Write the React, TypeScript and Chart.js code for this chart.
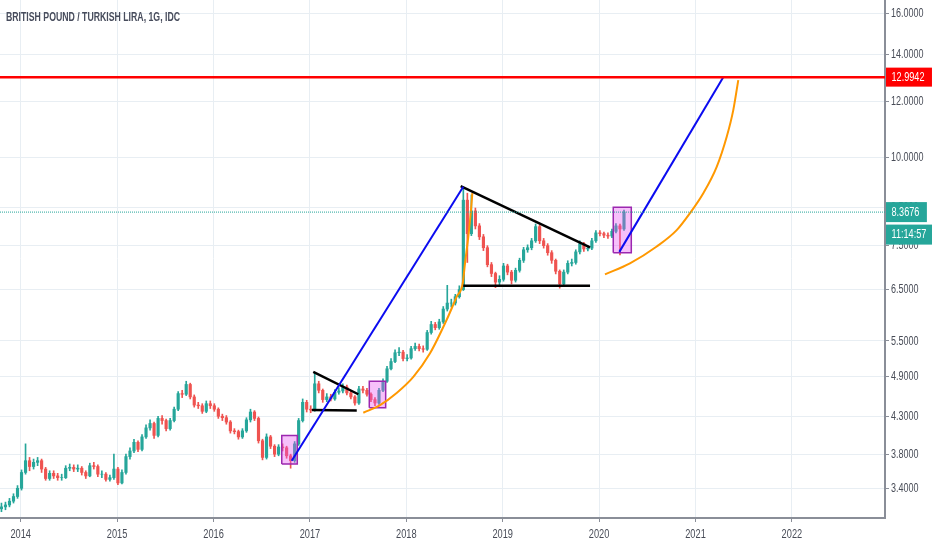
import { useEffect, useRef } from "react";
import { Chart, registerables } from "chart.js";

Chart.register(...registerables);

const TITLE = "BRITISH POUND / TURKISH LIRA, 1G, IDC";
const FONT = '"Liberation Sans", Arial, sans-serif';
const TEXT_COLOR = "#484c57";
const UP = "#26a69a";
const DOWN = "#ef5350";

// half-month candles, first one mid-October 2013 (decimal years)
const FIRST_DATE = 2013.8;
const CANDLE_STEP = 1 / 24;
const FIRST_OPEN = 3.18;

const CLOSES = [
  3.2, 3.22, 3.26, 3.31, 3.4, 3.58, 3.72, 3.65, 3.7, 3.72,
  3.62, 3.51, 3.57, 3.54, 3.52, 3.52, 3.63, 3.64, 3.62, 3.63,
  3.58, 3.54, 3.66, 3.65, 3.56, 3.56, 3.5, 3.52, 3.62, 3.46,
  3.58, 3.77, 3.84, 3.95, 3.86, 4.02, 4.14, 4.2, 4.04, 4.27,
  4.24, 4.13, 4.24, 4.4, 4.63, 4.62, 4.77, 4.58, 4.46, 4.45,
  4.37, 4.48, 4.45, 4.4, 4.3, 4.28, 4.22, 4.1, 4.09, 4.02,
  4.1, 4.25, 4.36, 4.27, 3.97, 3.76, 4.02, 3.9, 3.8, 3.89,
  3.88, 3.78, 3.72, 3.93, 4.24, 4.5, 4.4, 4.39, 4.78, 4.68,
  4.54, 4.58, 4.55, 4.65, 4.67, 4.73, 4.64, 4.58, 4.49, 4.7,
  4.68, 4.62, 4.54, 4.49, 4.68, 4.82, 5.02, 5.14, 5.29, 5.3,
  5.19, 5.2, 5.36, 5.4, 5.36, 5.35, 5.65, 5.8, 5.74, 5.85,
  6.1, 6.22, 6.22, 6.35, 6.5, 8.7, 7.8, 8.4, 8.0, 7.72,
  7.45, 7.05, 6.85, 6.66, 6.72, 7.02, 6.88, 6.7, 6.92, 7.15,
  7.4, 7.45, 7.62, 7.98, 7.62, 7.5, 7.33, 7.15, 6.9, 6.62,
  6.88, 7.08, 7.1, 7.35, 7.55, 7.42, 7.44, 7.62, 7.82, 7.8,
  7.76, 7.74, 7.86, 8.0, 7.92, 8.37,
];

const HIGHS = [
  3.24, 3.25, 3.29, 3.34, 3.43, 3.61, 3.93, 3.76, 3.74, 3.76,
  3.74, 3.64, 3.6, 3.6, 3.57, 3.56, 3.66, 3.68, 3.67, 3.67,
  3.65, 3.6, 3.69, 3.7, 3.67, 3.6, 3.58, 3.55, 3.8, 3.64,
  3.61, 3.8, 3.88, 3.99, 3.97, 4.05, 4.18, 4.25, 4.22, 4.3,
  4.31, 4.26, 4.27, 4.43, 4.66, 4.68, 4.82, 4.79, 4.61, 4.5,
  4.48, 4.52, 4.52, 4.48, 4.42, 4.33, 4.31, 4.24, 4.13, 4.11,
  4.13, 4.28, 4.4, 4.38, 4.29, 3.99, 4.06, 4.04, 3.92, 3.92,
  3.93, 3.9, 3.8, 3.96, 4.27, 4.55, 4.53, 4.45, 4.95, 4.82,
  4.7, 4.63, 4.62, 4.69, 4.72, 4.78, 4.76, 4.67, 4.6, 4.74,
  4.74, 4.71, 4.64, 4.57, 4.71, 4.86, 5.06, 5.19, 5.34, 5.38,
  5.33, 5.26, 5.4, 5.46, 5.44, 5.41, 5.69, 5.86, 5.84, 5.9,
  6.15, 6.59, 6.3, 6.4, 6.58, 9.05, 8.9, 8.85, 8.48, 8.06,
  7.78, 7.5, 7.1, 6.88, 6.8, 7.08, 7.06, 6.92, 6.97, 7.2,
  7.46, 7.52, 7.68, 8.05, 8.02, 7.68, 7.55, 7.38, 7.18, 6.93,
  6.93, 7.14, 7.18, 7.4, 7.62, 7.58, 7.5, 7.68, 7.88, 7.88,
  7.84, 7.82, 7.92, 8.06, 8.05, 8.42,
];

const LOWS = [
  3.15, 3.17, 3.2, 3.24, 3.29, 3.38, 3.56, 3.6, 3.62, 3.66,
  3.58, 3.49, 3.49, 3.51, 3.49, 3.49, 3.51, 3.6, 3.59, 3.59,
  3.55, 3.51, 3.53, 3.62, 3.53, 3.52, 3.48, 3.48, 3.5, 3.44,
  3.45, 3.56, 3.74, 3.82, 3.83, 3.84, 4.0, 4.11, 4.0, 4.02,
  4.19, 4.1, 4.11, 4.22, 4.38, 4.57, 4.6, 4.55, 4.43, 4.41,
  4.34, 4.35, 4.41, 4.37, 4.27, 4.24, 4.19, 4.07, 4.06, 3.99,
  4.0, 4.08, 4.22, 4.24, 3.94, 3.73, 3.74, 3.87, 3.77, 3.78,
  3.84, 3.75, 3.63, 3.7, 3.91, 4.22, 4.36, 4.35, 4.37, 4.64,
  4.5, 4.51, 4.52, 4.53, 4.62, 4.64, 4.61, 4.55, 4.46, 4.47,
  4.64, 4.59, 4.51, 4.45, 4.47, 4.66, 4.8, 5.0, 5.12, 5.24,
  5.15, 5.15, 5.18, 5.33, 5.32, 5.3, 5.33, 5.62, 5.7, 5.71,
  5.82, 6.06, 6.14, 6.18, 6.32, 6.48, 7.1, 7.75, 7.92, 7.65,
  7.38, 7.0, 6.78, 6.54, 6.6, 6.68, 6.82, 6.62, 6.66, 6.88,
  7.1, 7.34, 7.4, 7.58, 7.55, 7.44, 7.27, 7.08, 6.84, 6.53,
  6.58, 6.84, 7.02, 7.06, 7.3, 7.36, 7.37, 7.4, 7.58, 7.74,
  7.7, 7.68, 7.7, 7.82, 7.28, 7.88,
];

const YEAR_TICKS = [2014, 2015, 2016, 2017, 2018, 2019, 2020, 2021, 2022];
const PRICE_TICKS = [3.4, 3.8, 4.3, 4.9, 5.5, 6.5, 7.5, 8.5, 10, 12, 14, 16];
const X_MIN = 2013.785;
const X_MAX = 2022.966;
const Y_MIN = 3.086;
const Y_MAX = 16.71;

const TARGET_PRICE = 12.9942;
const LAST_PRICE = 8.3676;
const COUNTDOWN = "11:14:57";

// drawing tools, as [decimal year, price]
const BLUE_LINE_1 = [[2016.811, 3.72], [2018.591, 9.09]];
const BLUE_LINE_2 = [[2020.21, 7.35], [2021.288, 12.99]];
const TRI1_UPPER = [[2017.035, 4.97], [2017.502, 4.62]];
const TRI1_LOWER = [[2017.02, 4.39], [2017.486, 4.38]];
const TRI2_UPPER = [[2018.564, 9.11], [2019.906, 7.46]];
const TRI2_LOWER = [[2018.591, 6.58], [2019.906, 6.58]];
const ORANGE_1 = [
  [2017.554, 4.35], [2017.727, 4.46], [2017.9, 4.64], [2018.073, 4.89],
  [2018.246, 5.28], [2018.419, 5.89], [2018.523, 6.35], [2018.585, 6.63],
  [2018.609, 7.08], [2018.643, 7.72], [2018.668, 8.33], [2018.685, 8.9],
];
const ORANGE_2 = [
  [2020.061, 6.83], [2020.32, 7.08], [2020.598, 7.48], [2020.805, 7.89],
  [2020.943, 8.34], [2021.081, 8.9], [2021.22, 9.7], [2021.324, 10.7],
  [2021.392, 11.67], [2021.444, 12.87],
];
// [x0, x1, y0, y1]
const BOX_1 = [2016.708, 2016.869, 3.68, 4.04];
const BOX_2 = [2017.616, 2017.786, 4.42, 4.82];
const BOX_3 = [2020.147, 2020.334, 7.33, 8.5];

const pts = (arr: number[][]) => arr.map(([x, y]) => ({ x, y }));
const boxPts = (b: number[]) => [
  { x: b[0], y: b[2] }, { x: b[1], y: b[2] }, { x: b[1], y: b[3] }, { x: b[0], y: b[3] }, { x: b[0], y: b[2] },
];

function drawText(
  ctx: CanvasRenderingContext2D,
  text: string,
  x: number,
  y: number,
  size: number,
  weight: string,
  color: string,
  align: CanvasTextAlign,
  sx: number
) {
  ctx.save();
  ctx.font = `${weight} ${size}px ${FONT}`;
  ctx.fillStyle = color;
  ctx.textBaseline = "middle";
  ctx.textAlign = align;
  ctx.translate(x, y);
  ctx.scale(sx, 1);
  ctx.fillText(text, 0, 0);
  ctx.restore();
}

const overlayPlugin = {
  id: "overlayTexts",
  afterDraw(chart: any) {
    const ctx = chart.ctx as CanvasRenderingContext2D;
    const ys = chart.scales.y;
    const xs = chart.scales.x;
    const area = chart.chartArea;
    const axisX = area.right;
    ctx.save();

    // title
    ctx.font = `bold 12.5px ${FONT}`;
    const tw = ctx.measureText(TITLE).width;
    drawText(ctx, TITLE, 6, 17.8, 12.5, "bold", "#474c5c", "left", 174 / tw);

    // price axis labels
    PRICE_TICKS.forEach((v) => {
      drawText(ctx, v.toFixed(4), axisX + 6, ys.getPixelForValue(v) + 0.5, 12, "normal", TEXT_COLOR, "left", 0.75);
    });
    // time axis labels
    YEAR_TICKS.forEach((v) => {
      drawText(ctx, String(v), xs.getPixelForValue(v), area.bottom + 17, 12, "normal", TEXT_COLOR, "center", 0.77);
    });

    const tag = (text: string, cy: number, bg: string, h: number) => {
      ctx.font = `12px ${FONT}`;
      const w = ctx.measureText(text).width * 0.76 + 13;
      ctx.fillStyle = bg;
      ctx.fillRect(axisX + 1, cy - h / 2, w, h);
      drawText(ctx, text, axisX + 6.5, cy + 0.5, 12, "normal", "#ffffff", "left", 0.76);
    };
    const yT = ys.getPixelForValue(TARGET_PRICE);
    tag(TARGET_PRICE.toFixed(4), yT, "#ff0000", 19);
    const yL = ys.getPixelForValue(LAST_PRICE);
    tag(LAST_PRICE.toFixed(4), yL, UP, 20);
    tag(COUNTDOWN, yL + 22.5, UP, 20);
    ctx.restore();
  },
};

export default function App() {
  const ref = useRef<HTMLCanvasElement>(null);
  useEffect(() => {
    document.body.style.margin = "0";
    const dates = CLOSES.map((_, i) => FIRST_DATE + i * CANDLE_STEP);
    const opens = CLOSES.map((c, i) => (i === 0 ? FIRST_OPEN : CLOSES[i - 1]));
    const colors = CLOSES.map((c, i) => (c >= opens[i] ? UP : DOWN));
    const wicks = CLOSES.map((_, i) => ({ x: dates[i], y: [LOWS[i], HIGHS[i]] }));
    const bodies = CLOSES.map((c, i) => ({
      x: dates[i],
      y: [Math.min(opens[i], c), Math.max(opens[i], c)],
    }));

    const line = (data: any[], color: string, width: number, extra: any = {}) => ({
      type: "line",
      data,
      borderColor: color,
      borderWidth: width,
      pointRadius: 0,
      fill: false,
      order: 1,
      ...extra,
    });
    const box = (b: number[]) => ({
      type: "line",
      data: boxPts(b),
      borderColor: "#9c27b0",
      borderWidth: 1.5,
      backgroundColor: "rgba(230, 80, 240, 0.36)",
      fill: "shape",
      pointRadius: 0,
      tension: 0,
      order: 3,
    });

    const chart = new Chart(ref.current!, {
      type: "bar",
      data: {
        datasets: [
          line(pts([[X_MIN, TARGET_PRICE], [X_MAX, TARGET_PRICE]]), "#ff0000", 2.5),
          line(pts([[X_MIN, LAST_PRICE], [X_MAX, LAST_PRICE]]), UP, 1, { borderDash: [1, 1] }),
          line(pts(BLUE_LINE_1), "#0b0bf0", 2),
          line(pts(BLUE_LINE_2), "#0b0bf0", 2),
          line(pts(TRI1_UPPER), "#000000", 2.5),
          line(pts(TRI1_LOWER), "#000000", 2.5),
          line(pts(TRI2_UPPER), "#000000", 2.5),
          line(pts(TRI2_LOWER), "#000000", 2.5),
          line(pts(ORANGE_1), "#ff9800", 2, { cubicInterpolationMode: "monotone" }),
          line(pts(ORANGE_2), "#ff9800", 2, { cubicInterpolationMode: "monotone" }),
          box(BOX_1),
          box(BOX_2),
          box(BOX_3),
          {
            type: "bar",
            data: bodies,
            backgroundColor: colors,
            barThickness: 2.5,
            grouped: false,
            borderWidth: 0,
            order: 10,
          },
          {
            type: "bar",
            data: wicks,
            backgroundColor: colors,
            barThickness: 1,
            grouped: false,
            borderWidth: 0,
            order: 11,
          },
        ] as any,
      },
      options: {
        responsive: false,
        animation: false,
        events: [],
        layout: { padding: 0 },
        plugins: { legend: { display: false }, tooltip: { enabled: false } },
        scales: {
          x: {
            type: "linear",
            position: "bottom",
            min: X_MIN,
            max: X_MAX,
            offset: false,
            afterBuildTicks: (s: any) => {
              s.ticks = YEAR_TICKS.map((v) => ({ value: v }));
            },
            afterFit: (s: any) => {
              s.height = 32;
              s.paddingLeft = 0;
              s.paddingRight = 0;
            },
            ticks: { display: false },
            grid: { color: "#e8eef3", offset: false, tickLength: 4, tickColor: "#8a8e98" },
            border: { color: "#8a8e98", width: 2 },
          },
          y: {
            type: "logarithmic",
            position: "right",
            min: Y_MIN,
            max: Y_MAX,
            afterBuildTicks: (s: any) => {
              s.ticks = PRICE_TICKS.map((v) => ({ value: v }));
            },
            afterFit: (s: any) => {
              s.width = 47;
              s.paddingTop = 0;
              s.paddingBottom = 0;
            },
            ticks: { display: false },
            grid: { color: "#e8eef3", tickLength: 4, tickColor: "#8a8e98" },
            border: { color: "#8a8e98", width: 2 },
          },
        },
      } as any,
      plugins: [overlayPlugin],
    });
    return () => chart.destroy();
  }, []);

  return (
    <div style={{ position: "fixed", left: 0, top: 0, width: 932, height: 550, background: "#ffffff" }}>
      <canvas ref={ref} width={932} height={550} style={{ display: "block", width: 932, height: 550 }} />
    </div>
  );
}
